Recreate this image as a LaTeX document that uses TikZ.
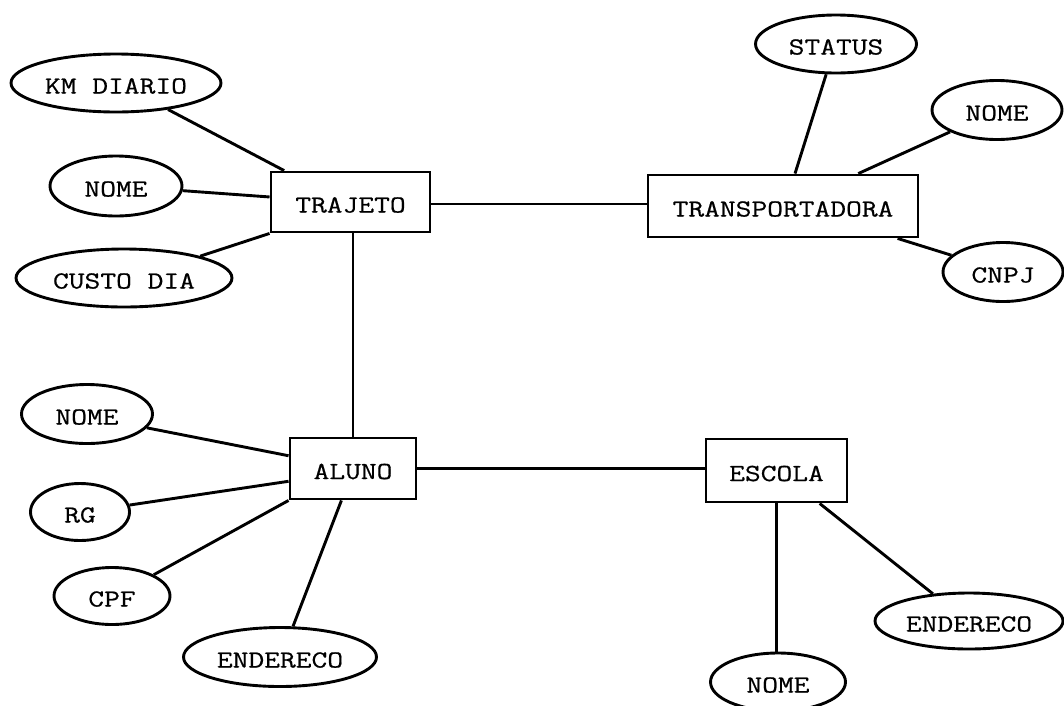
\documentclass[tikz,border=0pt]{standalone}
\usepackage{fontspec}
\newfontfamily\courfont{Latin Modern Mono}[FakeStretch=1.25,FakeBold=0.6]
\usetikzlibrary{shapes.geometric,calc}
\begin{document}
\begin{tikzpicture}[x=1pt,y=-1pt,line width=2.9pt,
  lbl/.style={inner sep=0pt,font=\courfont\fontsize{24.5}{24.5}\selectfont,text height=21pt,text depth=0pt},
  ent/.style={lbl,draw,rectangle},
  attr/.style={lbl,draw,ellipse}]
\useasboundingbox (0,0) rectangle (1064,705);
\fill[white] (0,0) rectangle (1064,705);
% entities
\node[ent,minimum width=159pt,minimum height=60pt] (trajeto) at (350.5,202) {TRAJETO};
\node[ent,minimum width=270pt,minimum height=62pt] (transp) at (783,206) {TRANSPORTADORA};
\node[ent,minimum width=126pt,minimum height=61pt] (aluno) at (353,468.5) {ALUNO};
\node[ent,minimum width=141pt,minimum height=63pt] (escola) at (776.5,470.5) {ESCOLA};
% attributes
\node[attr,minimum width=210pt,minimum height=58pt] (kmdiario) at (116,83) {KM DIARIO};
\node[attr,minimum width=132pt,minimum height=60pt] (nomet) at (116,186) {NOME};
\node[attr,minimum width=216pt,minimum height=58pt] (custo) at (124,278) {CUSTO DIA};
\node[attr,minimum width=161pt,minimum height=58pt] (status) at (836,44) {STATUS};
\node[attr,minimum width=130pt,minimum height=59pt] (nometr) at (997,110) {NOME};
\node[attr,minimum width=120pt,minimum height=59pt] (cnpj) at (1003,272) {CNPJ};
\node[attr,minimum width=131pt,minimum height=59pt] (nomea) at (87,414) {NOME};
\node[attr,minimum width=99pt,minimum height=57pt] (rg) at (80,512) {RG};
\node[attr,minimum width=116pt,minimum height=57pt] (cpf) at (112,596) {CPF};
\node[attr,minimum width=193pt,minimum height=59pt] (endera) at (280,657) {ENDERECO};
\node[attr,minimum width=135pt,minimum height=58pt] (nomee) at (778,682) {NOME};
\node[attr,minimum width=188pt,minimum height=56pt] (endere) at (969,621) {ENDERECO};
% relationships
\draw ($(trajeto.east)+(0,2)$) -- ($(transp.west)+(0,-2)$);
\draw (trajeto.south -| aluno.north) -- (aluno.north);
\draw (aluno.east) -- (aluno.east -| escola.west);
% TRAJETO attributes
\draw (kmdiario.-27) -- ($(trajeto.north west)!0.09!(trajeto.north east)$);
\draw (nomet.-4) -- ($(trajeto.north west)!0.42!(trajeto.south west)$);
\draw (custo.16) -- (trajeto.south west);
% TRANSPORTADORA attributes
\draw (status.-108) -- ($(transp.north west)!0.544!(transp.north east)$);
\draw (nometr.-155) -- ($(transp.north west)!0.776!(transp.north east)$);
\draw (cnpj.162) -- ($(transp.south west)!0.92!(transp.south east)$);
% ALUNO attributes
\draw (nomea.-13) -- ($(aluno.north west)!0.30!(aluno.south west)$);
\draw (rg.8) -- ($(aluno.north west)!0.70!(aluno.south west)$);
\draw (cpf.27) -- (aluno.south west);
\draw (endera.67) -- ($(aluno.south west)!0.41!(aluno.south east)$);
% ESCOLA attributes
\draw (escola.south) -- (escola.south |- nomee.north);
\draw (endere.143) -- ($(escola.south west)!0.80!(escola.south east)$);
\end{tikzpicture}
\end{document}
